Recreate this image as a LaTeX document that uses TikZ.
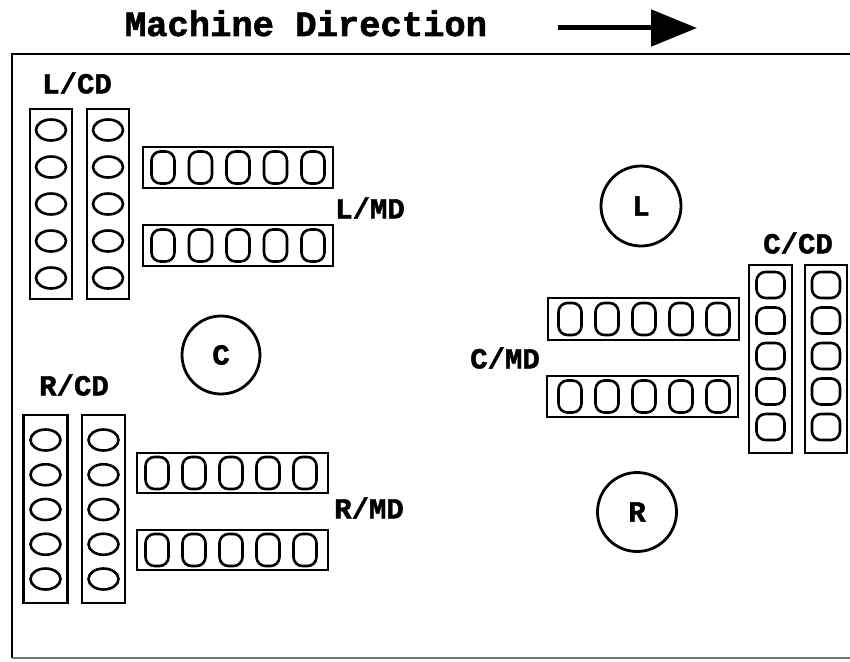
\documentclass[tikz,border=0pt]{standalone}
\usepackage{fontspec}
\newfontfamily\lblfont{Liberation Mono}[FakeBold=1.6]
\usetikzlibrary{arrows.meta,shapes.geometric}

\tikzset{
  frameline/.style={line width=2.8pt},
  strip/.style={draw, line width=2.8pt, inner sep=0pt, minimum width=#1},
  hole/.style={draw, line width=2.6pt, inner sep=0pt},
  cdhole/.style={hole, ellipse, minimum width=30pt, minimum height=21pt},
  mdhole/.style={hole, rectangle, rounded corners=9pt, minimum width=23pt, minimum height=32pt},
  sqhole/.style={hole, rectangle, rounded corners=9pt, minimum width=28pt, minimum height=26pt},
  lbl/.style={font=\lblfont\bfseries\fontsize{29}{30}\selectfont, inner sep=0pt},
  roll/.style={draw, circle, line width=2.8pt, inner sep=0pt, minimum size=#1,
               font=\lblfont\bfseries\fontsize{29}{30}\selectfont},
}

\begin{document}
\begin{tikzpicture}[x=1pt, y=-1pt]
\useasboundingbox (0,0) rectangle (850,661);
\fill[white] (0,0) rectangle (850,661);

% heading and direction arrow
\node[font=\lblfont\bfseries\fontsize{35.5}{36}\selectfont, anchor=base, inner sep=0pt]
  (title) at (306,36) {Machine Direction};
\coordinate (arrS) at (558,28);
\coordinate (arrE) at (697,28);
\draw[line width=5pt, -{Triangle[length=46pt,width=36pt]}] (arrS) -- (arrE);

% open frame (no right side)
\draw[frameline] (850,54) -- (12,54) -- (12,658);
\draw[line width=2pt, black!55] (12,658) -- (850,658);

% ---------- left group ----------
\node[lbl] (lcd) at (77,83) {L/CD};
\node[strip=42pt, minimum height=190pt] (lcdA) at (51,204) {};
\node[strip=42pt, minimum height=190pt] (lcdB) at (108,204) {};
\foreach \i in {0,...,4} {
  \node[cdhole] (lcdA\i) at (51,{130+37*\i}) {};
  \node[cdhole] (lcdB\i) at (108,{130+37*\i}) {};
}
\node[strip=190pt, minimum height=41pt] (lmdA) at (238,167.5) {};
\node[strip=190pt, minimum height=41pt] (lmdB) at (238,245.5) {};
\foreach \i in {0,...,4} {
  \node[mdhole] (lmdA\i) at ({163+37.5*\i},167.5) {};
  \node[mdhole] (lmdB\i) at ({163+37.5*\i},245.5) {};
}
\node[lbl] (lmd) at (370,208) {L/MD};

% centre roll
\node[roll=78pt] (rollC) at (221,355) {C};

% ---------- right group (lower left) ----------
\node[lbl] (rcd) at (74,385) {R/CD};
\node[strip=44pt, minimum height=188pt] (rcdA) at (45.5,509) {};
\node[strip=43pt, minimum height=188pt] (rcdB) at (103.5,509) {};
\foreach \i in {0,...,4} {
  \node[cdhole] (rcdA\i) at (45.5,{440+34.75*\i}) {};
  \node[cdhole] (rcdB\i) at (103.5,{440+34.75*\i}) {};
}
\node[strip=191pt, minimum height=40pt] (rmdA) at (232.5,473) {};
\node[strip=191pt, minimum height=40pt] (rmdB) at (232.5,550) {};
\foreach \i in {0,...,4} {
  \node[mdhole] (rmdA\i) at ({157+37*\i},473) {};
  \node[mdhole] (rmdB\i) at ({157+37*\i},550) {};
}
\node[lbl] (rmd) at (369,508) {R/MD};

% ---------- centre group (right) ----------
\node[roll=80pt] (rollL) at (641,206) {L};
\node[roll=79pt] (rollR) at (637,512) {R};

\node[lbl] (cmd) at (505,358) {C/MD};
\node[strip=191pt, minimum height=42pt] (cmdA) at (643.5,319) {};
\node[strip=191pt, minimum height=41pt] (cmdB) at (642.5,396.5) {};
\foreach \i in {0,...,4} {
  \node[mdhole] (cmdA\i) at ({570+37*\i},319) {};
  \node[mdhole] (cmdB\i) at ({570+37*\i},396.5) {};
}

\node[lbl] (ccd) at (798,243) {C/CD};
\node[strip=43pt, minimum height=188pt] (ccdA) at (770.5,359) {};
\node[strip=42pt, minimum height=188pt] (ccdB) at (826,359) {};
\foreach \i in {0,...,4} {
  \node[sqhole] (ccdA\i) at (770.5,{285+35.5*\i}) {};
  \node[sqhole] (ccdB\i) at (826,{285+35.5*\i}) {};
}
\end{tikzpicture}
\end{document}
